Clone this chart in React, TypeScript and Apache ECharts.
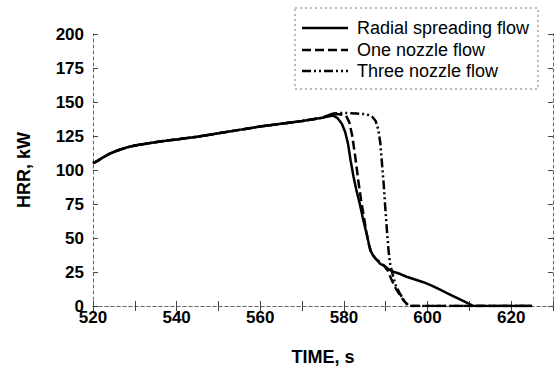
import React, { useEffect, useRef } from "react";
import * as echarts from "echarts";

const commonTime = [520, 521, 522, 524, 526, 528, 530, 533, 536, 540, 545, 550, 555, 560, 565, 570, 573, 575];
const commonHrr = [105, 106.5, 108.5, 112, 114.5, 116.5, 118, 119.5, 121, 122.5, 124.5, 127, 129.5, 132, 134, 136, 137.5, 138.5];

const radialTime = [576.5, 577.5, 578.5, 579.5, 580.3, 581, 581.6, 582.3, 583, 583.8, 584.5, 585.2, 585.8, 586.3, 587, 587.8, 588.7, 589.7, 590.7, 592, 593.5, 595, 597, 599, 601, 603, 605, 607, 609, 611, 625];
const radialHrr = [139.5, 140, 138, 134, 128, 119, 107, 95, 85, 75, 65, 56, 48, 41, 37, 34, 31, 29.5, 27, 25, 23.5, 21.5, 19.5, 17.5, 15, 12, 9, 6, 3, 0, 0];

const oneTime = [576, 577.5, 579, 580.5, 581.3, 582, 582.7, 583.4, 584.1, 584.8, 585.4, 586, 586.6, 587.5, 588.5, 589.5, 590.5, 591.3, 592.2, 593.2, 594.3, 595.5, 625];
const oneHrr = [140, 141, 141, 140, 135, 125, 110, 93, 78, 65, 54, 45, 39, 35, 32.5, 30, 26, 20, 14, 9, 4, 0, 0];

const threeTime = [576, 577.5, 580, 583, 585.5, 586.8, 587.6, 588.2, 588.7, 589.1, 589.5, 589.9, 590.3, 590.7, 591.1, 591.6, 592.4, 593.4, 594.4, 595.5, 625];
const threeHrr = [140, 141.5, 142, 141.5, 141, 139, 136, 130, 120, 105, 90, 72, 55, 40, 30, 24, 15, 9, 4, 0, 0];

const seriesNames = ["Radial spreading flow", "One nozzle flow", "Three nozzle flow"];
const xTickLabels = [520, 540, 560, 580, 600, 620];

function pairs(t1: number[], h1: number[], t2: number[], h2: number[]) {
  const out: number[][] = [];
  t1.forEach((t, i) => out.push([t, h1[i]]));
  t2.forEach((t, i) => out.push([t, h2[i]]));
  return out;
}

export default function App() {
  const ref = useRef<HTMLDivElement>(null);
  useEffect(() => {
    if (!ref.current) return;
    const chart = echarts.init(ref.current, null, { renderer: "svg" });
    const frameLine = { show: true, lineStyle: { color: "#666", width: 1, type: [3, 3] as any } };
    const font = "Liberation Sans, Arial, sans-serif";
    const lineX1 = 302, lineX2 = 348, textX = 357;
    const rowsY = [28, 50, 71];
    const dashes: any[] = [null, [9, 4], [9, 3, 2, 3, 2, 3]];
    const legendEls: any[] = [
      {
        type: "rect",
        shape: { x: 295, y: 8, width: 243, height: 81 },
        style: { fill: "#fff", stroke: "#777", lineWidth: 1, lineDash: [2, 3] },
        z: 100,
      },
    ];
    seriesNames.forEach((n, i) => {
      legendEls.push({
        type: "line",
        shape: { x1: lineX1, y1: rowsY[i], x2: lineX2, y2: rowsY[i] },
        style: { stroke: "#000", lineWidth: 2.5, lineDash: dashes[i] || undefined },
        z: 101,
      });
      legendEls.push({
        type: "text",
        x: textX,
        y: rowsY[i],
        style: { text: n, fill: "#000", font: `18px ${font}`, verticalAlign: "middle" },
        z: 101,
      });
    });

    chart.setOption({
      animation: false,
      grid: { left: 93, top: 34, width: 466, height: 276 },
      xAxis: [
        {
          type: "value",
          min: 520,
          max: 630,
          interval: 10,
          name: "TIME, s",
          nameLocation: "middle",
          nameGap: 42,
          nameTextStyle: { fontFamily: font, fontWeight: "bold", fontSize: 18, color: "#000" },
          axisLine: frameLine,
          axisTick: { show: true, inside: true, length: 5, lineStyle: { color: "#444" } },
          axisLabel: {
            formatter: (v: number) => (xTickLabels.indexOf(v) >= 0 ? String(v) : ""),
            fontFamily: font,
            fontWeight: "bold",
            fontSize: 17,
            color: "#000",
            margin: 3,
          },
          splitLine: { show: false },
        },
        {
          type: "value",
          position: "top",
          min: 520,
          max: 630,
          interval: 10,
          axisLine: frameLine,
          axisTick: { show: true, inside: true, length: 5, lineStyle: { color: "#444" } },
          axisLabel: { show: false },
          splitLine: { show: false },
        },
      ],
      yAxis: [
        {
          type: "value",
          min: 0,
          max: 200,
          interval: 25,
          name: "HRR, kW",
          nameLocation: "middle",
          nameGap: 60,
          nameTextStyle: { fontFamily: font, fontWeight: "bold", fontSize: 18, color: "#000" },
          axisLine: frameLine,
          axisTick: { show: true, inside: true, length: 5, lineStyle: { color: "#444" } },
          axisLabel: { fontFamily: font, fontWeight: "bold", fontSize: 17, color: "#000", margin: 9 },
          splitLine: { show: false },
        },
        {
          type: "value",
          position: "right",
          min: 0,
          max: 200,
          interval: 25,
          axisLine: frameLine,
          axisTick: { show: true, inside: true, length: 5, lineStyle: { color: "#444" } },
          axisLabel: { show: false },
          splitLine: { show: false },
        },
      ],
      series: [
        {
          name: seriesNames[0],
          type: "line",
          showSymbol: false,
          data: pairs(commonTime, commonHrr, radialTime, radialHrr),
          lineStyle: { color: "#000", width: 2.5 },
          z: 5,
        },
        {
          name: seriesNames[1],
          type: "line",
          showSymbol: false,
          data: pairs(commonTime, commonHrr, oneTime, oneHrr),
          lineStyle: { color: "#000", width: 2.5, type: [9, 4] },
          z: 4,
        },
        {
          name: seriesNames[2],
          type: "line",
          showSymbol: false,
          data: pairs(commonTime, commonHrr, threeTime, threeHrr),
          lineStyle: { color: "#000", width: 2.5, type: [9, 3, 2, 3, 2, 3] },
          z: 3,
        },
      ],
      graphic: legendEls,
    });
    return () => chart.dispose();
  }, []);
  return <div ref={ref} style={{ width: 556, height: 371, position: "absolute", left: 0, top: 0 }} />;
}
